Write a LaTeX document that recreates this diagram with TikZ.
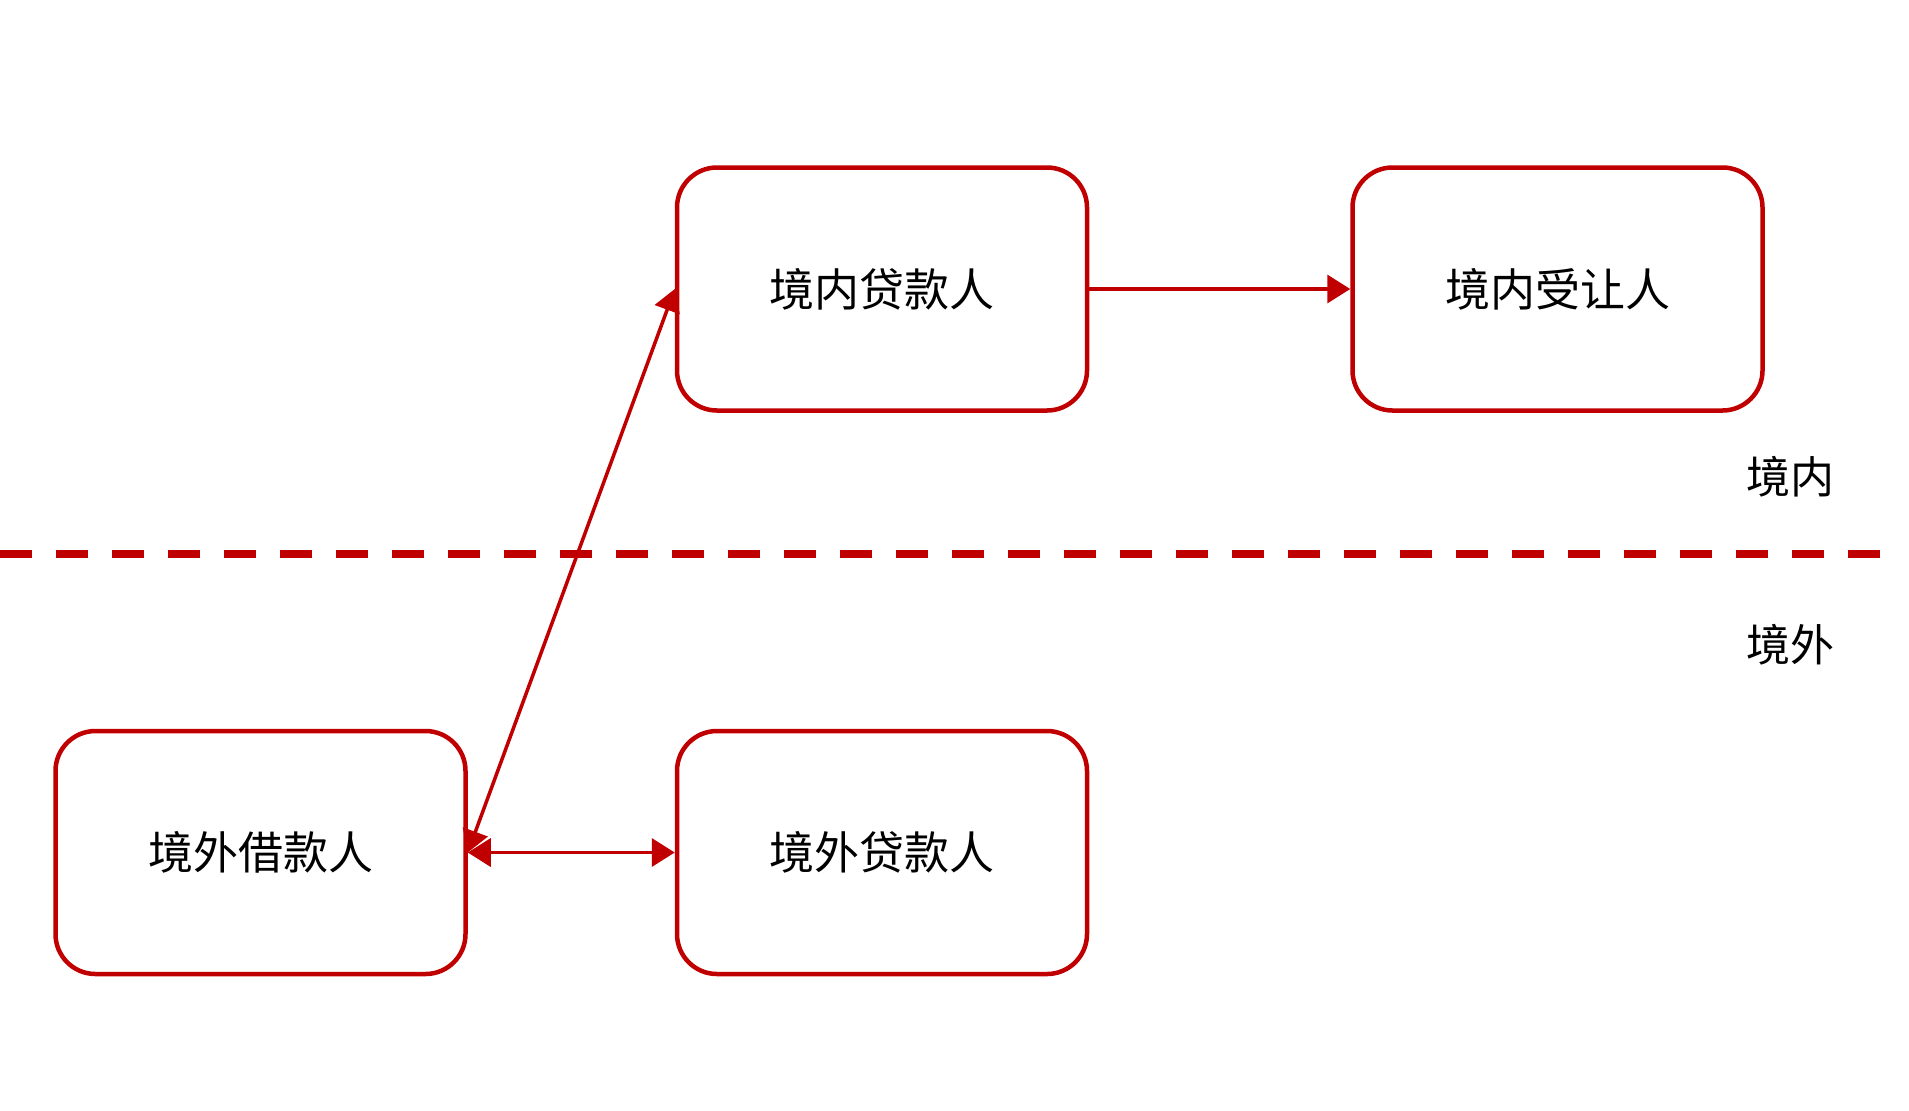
\documentclass[tikz,border=0pt]{standalone}
\usepackage{fontspec}
\newfontfamily\cjk{Noto Sans CJK SC}
\usetikzlibrary{arrows.meta}
\definecolor{boxred}{RGB}{192,0,0}
\tikzset{
  party/.style={draw=boxred, line width=2.25pt, rounded corners=20pt,
    minimum width=205pt, minimum height=121.5pt, inner sep=0pt,
    font=\cjk\fontsize{22.5}{27}\selectfont},
  flow/.style={color=boxred, line width=1.75pt},
  side/.style={font=\cjk\fontsize{22}{26}\selectfont}
}
\begin{document}
\begin{tikzpicture}[x=0.5pt,y=-0.5pt]
\useasboundingbox (0,0) rectangle (1909,1110);

% border line
\coordinate (lineL) at (0,554);
\coordinate (lineR) at (1880,554);
\draw [boxred, line width=4pt, dash pattern=on 16pt off 12pt] (lineL) -- (lineR);
\node [side] (inside) at (1790,477) {境内};
\node [side] (outside) at (1790,645) {境外};

\node [party] (dlender) at (882,289) {境内贷款人};
\node [party] (assignee) at (1557.5,289) {境内受让人};
\node [party] (borrower) at (260.5,852.5) {境外借款人};
\node [party] (flender) at (882,852.5) {境外贷款人};

\draw [flow, -{Triangle[length=11.5pt,width=14pt]}] (dlender) -- (assignee);
\draw [flow, {Triangle[length=11.5pt,width=14pt]}-{Triangle[length=11.5pt,width=14pt]}] (borrower.east) -- (flender.west);
\draw [flow, {Triangle[length=11pt,width=13pt]}-{Triangle[length=11pt,width=13pt]}] (borrower.east) -- (dlender.west);

\end{tikzpicture}
\end{document}
